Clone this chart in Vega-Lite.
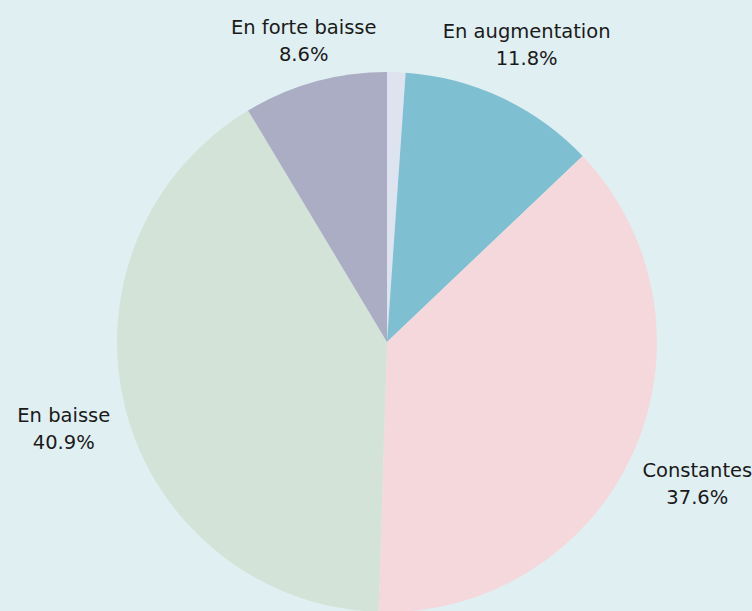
{
  "$schema": "https://vega.github.io/schema/vega-lite/v6.json",
  "autosize": "none",
  "width": 730,
  "height": 538,
  "padding": {"left": 22, "top": 73, "right": 0, "bottom": 0},
  "background": "#e0eff2",
  "data": {"values": [
    {"cat": "Autre", "pct": 1.1, "order": 0, "label": ""},
    {"cat": "En augmentation", "pct": 11.8, "order": 1, "label": "En augmentation\n11.8%"},
    {"cat": "Constantes", "pct": 37.6, "order": 2, "label": "Constantes\n37.6%"},
    {"cat": "En baisse", "pct": 40.9, "order": 3, "label": "En baisse\n40.9%"},
    {"cat": "En forte baisse", "pct": 8.6, "order": 4, "label": "En forte baisse\n8.6%"}
  ]},
  "encoding": {
    "theta": {"field": "pct", "type": "quantitative", "stack": true},
    "order": {"field": "order", "type": "quantitative"}
  },
  "layer": [
    {
      "mark": {"type": "arc", "outerRadius": 270},
      "encoding": {
        "color": {
          "field": "cat", "type": "nominal", "legend": null,
          "scale": {
            "domain": ["Autre", "En augmentation", "Constantes", "En baisse", "En forte baisse"],
            "range": ["#dde3ef", "#7fbfd2", "#f5d8dc", "#d3e3d7", "#abadc4"]
          }
        }
      }
    },
    {
      "mark": {"type": "text", "radius": 312, "dy": -13.5, "fontSize": 19.5, "font": "DejaVu Sans", "color": "#1a1a1a", "lineBreak": "\n", "lineHeight": 27, "baseline": "middle", "align": "center"},
      "encoding": {"text": {"condition": {"test": "datum.cat === 'En forte baisse'", "field": "label", "type": "nominal"}, "value": ""}}
    },
    {
      "mark": {"type": "text", "radius": 328, "dy": -13.5, "fontSize": 19.5, "font": "DejaVu Sans", "color": "#1a1a1a", "lineBreak": "\n", "lineHeight": 27, "baseline": "middle", "align": "center"},
      "encoding": {"text": {"condition": {"test": "datum.cat === 'En augmentation'", "field": "label", "type": "nominal"}, "value": ""}}
    },
    {
      "mark": {"type": "text", "radius": 334, "dy": -10.5, "fontSize": 19.5, "font": "DejaVu Sans", "color": "#1a1a1a", "lineBreak": "\n", "lineHeight": 27, "baseline": "middle", "align": "center"},
      "encoding": {"text": {"condition": {"test": "datum.cat === 'En baisse'", "field": "label", "type": "nominal"}, "value": ""}}
    },
    {
      "mark": {"type": "text", "radius": 340, "dy": -10, "fontSize": 19.5, "font": "DejaVu Sans", "color": "#1a1a1a", "lineBreak": "\n", "lineHeight": 27, "baseline": "middle", "align": "center"},
      "encoding": {"text": {"condition": {"test": "datum.cat === 'Constantes'", "field": "label", "type": "nominal"}, "value": ""}}
    }
  ]
}
